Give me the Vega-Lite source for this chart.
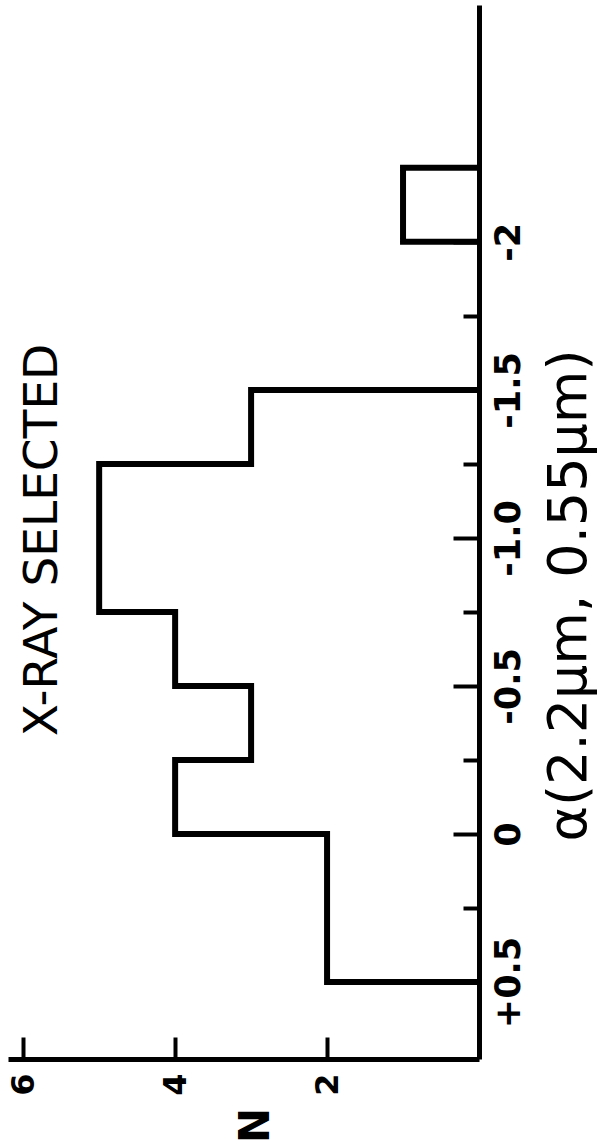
{
  "$schema": "https://vega.github.io/schema/vega-lite/v6.json",
  "width": 471,
  "height": 1054,
  "autosize": "none",
  "padding": {"left": 8, "top": 5, "right": 126, "bottom": 87},
  "background": "white",
  "config": {"view": {"stroke": null}, "font": "DejaVu Sans"},
  "title": {
    "text": "X-RAY SELECTED",
    "orient": "left",
    "anchor": "middle",
    "offset": -97,
    "baseline": "alphabetic",
    "dx": -8,
    "font": "DejaVu Sans",
    "fontSize": 47,
    "fontWeight": "normal",
    "color": "black"
  },
  "data": {
    "values": [
      {"group": "main", "order": 0, "alpha": 0.5, "N": 0},
      {"group": "main", "order": 1, "alpha": 0.5, "N": 2},
      {"group": "main", "order": 2, "alpha": 0.0, "N": 4},
      {"group": "main", "order": 3, "alpha": -0.25, "N": 3},
      {"group": "main", "order": 4, "alpha": -0.5, "N": 4},
      {"group": "main", "order": 5, "alpha": -0.75, "N": 5},
      {"group": "main", "order": 6, "alpha": -1.25, "N": 3},
      {"group": "main", "order": 7, "alpha": -1.5, "N": 0},
      {"group": "outlier", "order": 8, "alpha": -2.0, "N": 0},
      {"group": "outlier", "order": 9, "alpha": -2.0, "N": 1},
      {"group": "outlier", "order": 10, "alpha": -2.25, "N": 0}
    ]
  },
  "resolve": {"axis": {"x": "independent", "y": "independent"}},
  "layer": [
    {
      "transform": [{"filter": "datum.group == 'main'"}],
      "mark": {"type": "line", "interpolate": "step-before", "color": "black", "strokeWidth": 6, "strokeJoin": "miter", "strokeCap": "square"},
      "encoding": {
        "x": {
          "field": "N", "type": "quantitative",
          "scale": {"domain": [0, 6.2], "reverse": true, "nice": false, "zero": false},
          "axis": {
            "orient": "bottom", "values": [2, 4, 6], "grid": false,
            "domainColor": "black", "domainWidth": 5,
            "tickColor": "black", "tickWidth": 4, "tickSize": -22,
            "labelFont": "DejaVu Sans", "labelFontSize": 32, "labelFontWeight": "bold", "labelColor": "black",
            "labelAngle": 270, "labelAlign": "right", "labelBaseline": "middle", "labelPadding": 36,
            "labelFlush": false, "labelOverlap": false,
            "title": "N", "titleFont": "DejaVu Sans", "titleFontSize": 42, "titleFontWeight": "bold", "titleColor": "black",
            "titleAngle": 270, "titleAlign": "center", "titleBaseline": "middle", "titleX": 247, "titleY": 66
          }
        },
        "y": {
          "field": "alpha", "type": "quantitative",
          "scale": {"domain": [-2.8, 0.76], "reverse": true, "nice": false, "zero": false},
          "axis": {
            "orient": "right", "values": [-2, -1.5, -1, -0.5, 0, 0.5], "grid": false,
            "domainColor": "black", "domainWidth": 5,
            "tickColor": "black", "tickWidth": 4, "tickSize": -26,
            "labelExpr": "datum.value == 0.5 ? '+0.5' : datum.value == 0 ? '0' : datum.value == -0.5 ? '-0.5' : datum.value == -1 ? '-1.0' : datum.value == -1.5 ? '-1.5' : datum.value == -2 ? '-2' : ''",
            "labelFont": "DejaVu Sans", "labelFontSize": 35, "labelFontWeight": "bold", "labelColor": "black",
            "labelAngle": 270, "labelAlign": "center", "labelBaseline": "top", "labelPadding": 38,
            "labelFlush": false, "labelOverlap": false,
            "title": "α(2.2μm, 0.55μm)", "titleFont": "DejaVu Sans", "titleFontSize": 54, "titleFontWeight": "normal", "titleColor": "black",
            "titleAngle": 270, "titleAlign": "center", "titleBaseline": "alphabetic", "titleX": 106, "titleY": 590
          }
        },
        "order": {"field": "order", "type": "quantitative"}
      }
    },
    {
      "transform": [{"filter": "datum.group == 'outlier'"}],
      "mark": {"type": "line", "interpolate": "step-before", "color": "black", "strokeWidth": 6, "strokeJoin": "miter", "strokeCap": "square"},
      "encoding": {
        "x": {"field": "N", "type": "quantitative", "axis": null},
        "y": {
          "field": "alpha", "type": "quantitative",
          "axis": {
            "orient": "right", "values": [-1.75, -1.25, -0.75, -0.25, 0.25], "grid": false,
            "domain": false, "labels": false, "title": null,
            "tickColor": "black", "tickWidth": 4, "tickSize": -16
          }
        },
        "order": {"field": "order", "type": "quantitative"}
      }
    }
  ]
}
